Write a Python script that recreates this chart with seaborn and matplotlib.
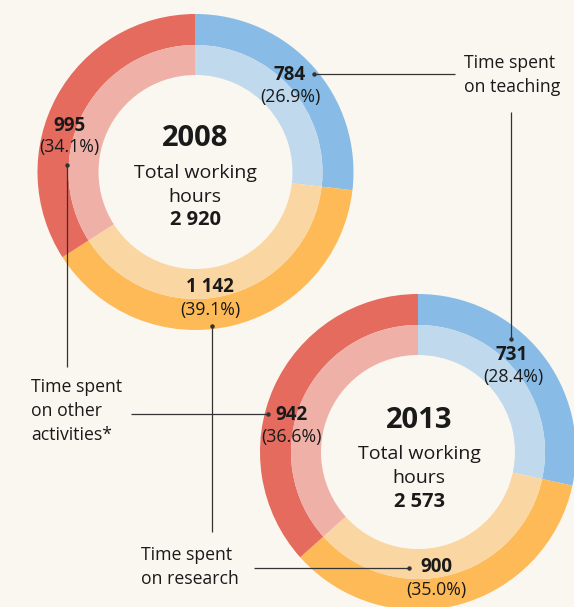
import matplotlib
matplotlib.use("Agg")
import matplotlib.pyplot as plt
import seaborn as sns

# ---- data ----
categories = ["Teaching", "Research", "Other activities"]
years = ["2008", "2013"]
hours_2008 = [784, 1142, 995]
pct_2008 = [26.9, 39.1, 34.1]
hours_2013 = [731, 900, 942]
pct_2013 = [28.4, 35.0, 36.6]
totals = [2920, 2573]
annot_labels = ["Time spent\non teaching", "Time spent\non research",
                "Time spent\non other\nactivities*"]

outer_colors = ["#88BCE6", "#FDBA57", "#E56B5F"]
inner_colors = ["#C0D9EC", "#FAD6A2", "#EFB1A7"]
bg = "#FAF7F0"
ink = "#1A1A1A"
line_c = "#333333"

sns.set_style("white")
plt.rcParams["font.family"] = ["Open Sans", "DejaVu Sans"]

W, H = 574, 607
fig = plt.figure(figsize=(W / 100, H / 100), dpi=100, facecolor=bg)
ax = fig.add_axes([0, 0, 1, 1])
ax.set_facecolor(bg)


def Y(y):
    return H - y


def fmt(v):
    return f"{v:,}".replace(",", " ")


centers = [(195.5, 172), (418, 452)]
R_out, W_out = 158, 31
R_in, W_in = 127, 30

for vals, (cx, cy) in zip([hours_2008, hours_2013], centers):
    ax.pie(vals, radius=R_out, center=(cx, Y(cy)), startangle=90,
           counterclock=False, colors=outer_colors,
           wedgeprops=dict(width=W_out, linewidth=0), frame=True)
    ax.pie(vals, radius=R_in, center=(cx, Y(cy)), startangle=90,
           counterclock=False, colors=inner_colors,
           wedgeprops=dict(width=W_in, linewidth=0), frame=True)

# centre texts
center_txt_pos = [((195, 138), (195, 173), (195, 197), (195, 220)),
                  ((419, 420), (419, 454), (419, 478), (419, 502))]
for yr, tot, pos in zip(years, totals, center_txt_pos):
    ax.text(pos[0][0], Y(pos[0][1]), yr, ha="center", va="center",
            fontsize=21, fontweight="bold", color=ink)
    ax.text(pos[1][0], Y(pos[1][1]), "Total working", ha="center", va="center",
            fontsize=14, color=ink)
    ax.text(pos[2][0], Y(pos[2][1]), "hours", ha="center", va="center",
            fontsize=14, color=ink)
    ax.text(pos[3][0], Y(pos[3][1]), fmt(tot), ha="center", va="center",
            fontsize=14.5, fontweight="bold", color=ink)

# value labels
label_pos = [
    [((290, 75), (290, 97)), ((210, 287), (210, 310)), ((70, 126), (69, 147))],
    [((512, 355), (513, 377)), ((436, 567), (436, 590)), ((292, 415), (292, 437))],
]
for hrs, pcts, lp in zip([hours_2008, hours_2013], [pct_2008, pct_2013], label_pos):
    for v, p, (p1, p2) in zip(hrs, pcts, lp):
        ax.text(p1[0], Y(p1[1]), fmt(v), ha="center", va="center",
                fontsize=13.5, fontweight="bold", color=ink)
        ax.text(p2[0], Y(p2[1]), f"({p:.1f}%)", ha="center", va="center",
                fontsize=12.8, color=ink)

# annotation labels
annot_pos = [(464, 63), (141, 555), (31, 387)]
for lab, (x, y) in zip(annot_labels, annot_pos):
    for i, ln in enumerate(lab.split("\n")):
        ax.text(x, Y(y + 24 * i), ln, ha="left", va="center",
                fontsize=12.7, color=ink)

# leader lines (segment, dot end)
leaders = [
    ((314, 74), (455, 74), (314, 74)),
    ((511, 112), (511, 339), (511, 339)),
    ((67, 165), (67, 367), (67, 165)),
    ((131, 414), (268, 414), (268, 414)),
    ((212, 326), (212, 532), (212, 326)),
    ((254, 568), (409, 568), (409, 568)),
]
for a, b, d in leaders:
    ax.plot([a[0], b[0]], [Y(a[1]), Y(b[1])], color=line_c, lw=0.9,
            solid_capstyle="butt", zorder=5)
    ax.plot([d[0]], [Y(d[1])], "o", color=line_c, ms=2.2, zorder=6)

ax.set_xlim(0, W)
ax.set_ylim(0, H)
ax.set_aspect("equal")
ax.axis("off")

fig.savefig("out.png", dpi=100, facecolor=bg)
